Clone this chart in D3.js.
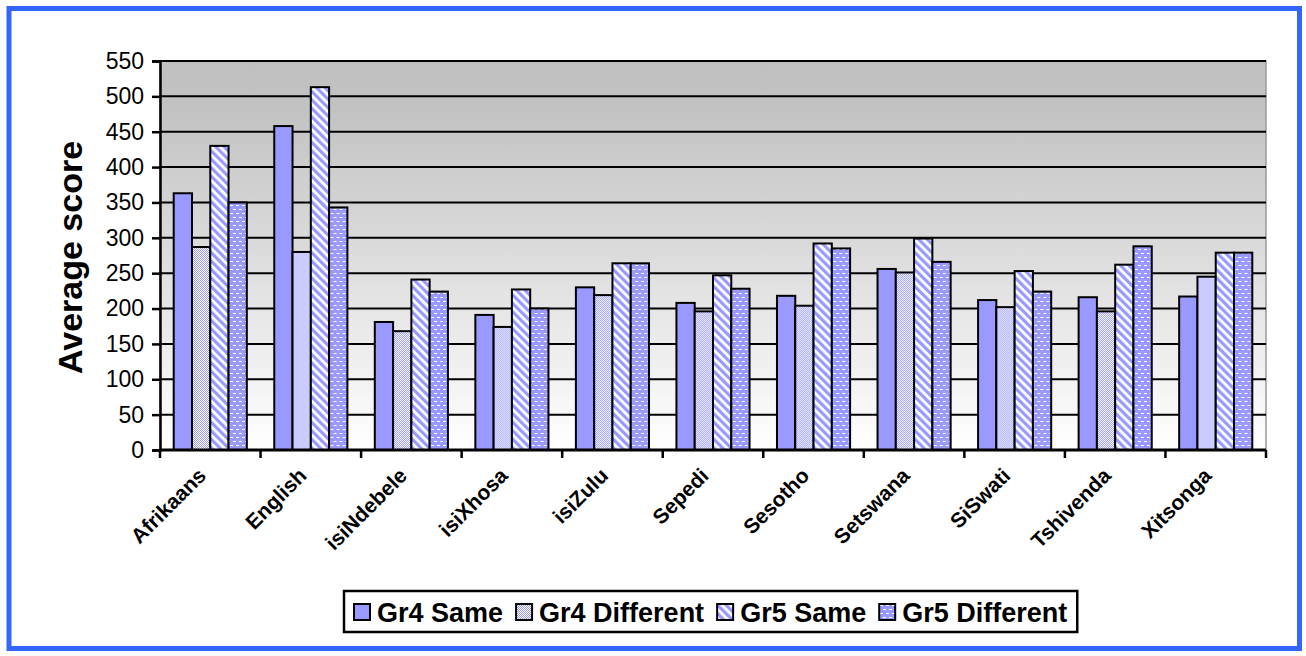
<!DOCTYPE html>
<html>
<head>
<meta charset="utf-8">
<script src="https://cdn.jsdelivr.net/npm/d3@7"></script>
<style>
  body { margin: 0; background: #fff; }
  text { font-family: Arial, "Liberation Sans", sans-serif; }
</style>
</head>
<body>
<div id="chart"></div>
<script>
"use strict";

/*** Data */
const categories = ["Afrikaans", "English", "isiNdebele", "isiXhosa", "isiZulu", "Sepedi",
                    "Sesotho", "Setswana", "SiSwati", "Tshivenda", "Xitsonga"];
const seriesNames = ["Gr4 Same", "Gr4 Different", "Gr5 Same", "Gr5 Different"];
const gr4Same = [363, 458, 181, 191, 230, 208, 218, 256, 212, 216, 217];
const gr4Diff = [287, 280, 168, 174, 219, 196, 204, 251, 202, 196, 245];
const gr5Same = [430, 513, 241, 227, 264, 247, 292, 299, 253, 262, 279];
const gr5Diff = [350, 343, 224, 200, 264, 228, 285, 266, 224, 288, 279];
const yTicks = [0, 50, 100, 150, 200, 250, 300, 350, 400, 450, 500, 550];

const seriesValues = [gr4Same, gr4Diff, gr5Same, gr5Diff];

/*** Dimensions */
const w = 1306;
const h = 656;
const plot = {left: 160, right: 1266, top: 61, bottom: 450};

const svg = d3.select("#chart")
    .append("svg")
    .attr("width", w)
    .attr("height", h);

/** Patterns + gradient */
const defs = svg.append("defs");
const blue = "#9999ff";

const grad = defs.append("linearGradient")
    .attr("id", "bg").attr("x1", 0).attr("y1", 0).attr("x2", 0).attr("y2", 1);
grad.append("stop").attr("offset", "0%").attr("stop-color", "#c0c0c0");
grad.append("stop").attr("offset", "12%").attr("stop-color", "#c2c2c2");
grad.append("stop").attr("offset", "100%").attr("stop-color", "#ffffff");

// Gr4 Different: fine checker
const pChk = defs.append("pattern").attr("id", "pChk")
    .attr("patternUnits", "userSpaceOnUse").attr("width", 2).attr("height", 2);
pChk.append("rect").attr("width", 2).attr("height", 2).attr("fill", "#ffffff");
pChk.append("rect").attr("width", 1).attr("height", 1).attr("fill", blue);
pChk.append("rect").attr("x", 1).attr("y", 1).attr("width", 1).attr("height", 1).attr("fill", blue);

// Gr5 Same: wide downward diagonal
const pDiag = defs.append("pattern").attr("id", "pDiag")
    .attr("patternUnits", "userSpaceOnUse").attr("width", 6).attr("height", 6)
    .attr("patternTransform", "rotate(-45)");
pDiag.append("rect").attr("width", 6).attr("height", 6).attr("fill", "#ffffff");
pDiag.append("rect").attr("width", 3.2).attr("height", 6).attr("fill", blue);

// Gr5 Different: blue with small white dashes
const pDash = defs.append("pattern").attr("id", "pDash")
    .attr("patternUnits", "userSpaceOnUse").attr("width", 6).attr("height", 8);
pDash.append("rect").attr("width", 6).attr("height", 8).attr("fill", blue);
pDash.append("rect").attr("x", 1).attr("y", 1).attr("width", 3).attr("height", 1).attr("fill", "#ffffff");
pDash.append("rect").attr("x", 4).attr("y", 5).attr("width", 2).attr("height", 1).attr("fill", "#ffffff");
pDash.append("rect").attr("x", 0).attr("y", 5).attr("width", 1).attr("height", 1).attr("fill", "#ffffff");

const fills = [blue, "url(#pChk)", "url(#pDiag)", "url(#pDash)"];

/** Outer frame */
svg.append("rect")
    .attr("x", 9).attr("y", 8.5)
    .attr("width", 1290.5).attr("height", 640)
    .attr("fill", "none")
    .attr("stroke", "#3366ff")
    .attr("stroke-width", 5);

/** Scales */
const x0 = d3.scaleBand().domain(categories).range([plot.left, plot.right]);
const x1 = d3.scaleBand().domain(d3.range(4)).range([0, x0.bandwidth()]).paddingOuter(0.75);
const y = d3.scaleLinear().domain([0, 550]).range([plot.bottom, plot.top]);

/** Plot background */
svg.append("rect")
    .attr("x", plot.left).attr("y", plot.top)
    .attr("width", plot.right - plot.left).attr("height", plot.bottom - plot.top)
    .attr("fill", "url(#bg)")
    .attr("stroke", "#9a9a9a")
    .attr("stroke-width", 1.5);

/** Gridlines */
svg.append("g")
    .selectAll("line")
    .data(yTicks.filter(d => d > 0))
    .enter()
    .append("line")
    .attr("x1", plot.left).attr("x2", plot.right)
    .attr("y1", d => y(d)).attr("y2", d => y(d))
    .attr("stroke", "#000").attr("stroke-width", 2);

/** Bars */
const groups = svg.append("g")
    .selectAll("g")
    .data(categories)
    .enter()
    .append("g")
    .attr("transform", d => "translate(" + x0(d) + ",0)");

groups.selectAll("rect")
    .data((c, ci) => seriesValues.map((s, si) => ({si: si, v: s[ci]})))
    .enter()
    .append("rect")
    .attr("x", d => x1(d.si))
    .attr("y", d => y(d.v))
    .attr("width", x1.bandwidth())
    .attr("height", d => y(0) - y(d.v))
    .attr("fill", d => fills[d.si])
    .attr("stroke", "#000")
    .attr("stroke-width", 2);

/** Y axis */
const yAxis = d3.axisLeft(y).tickValues(yTicks).tickSize(8).tickPadding(8);
const gy = svg.append("g")
    .attr("transform", "translate(" + plot.left + ",0)")
    .call(yAxis);
gy.select(".domain").attr("stroke-width", 2.5);
gy.selectAll(".tick line").attr("stroke-width", 2.5);
gy.selectAll("text")
    .style("font-family", "Arial, 'Liberation Sans', sans-serif")
    .style("font-size", "23px")
    .attr("fill", "#000");

/** X axis */
const gx = svg.append("g")
    .attr("transform", "translate(0," + plot.bottom + ")");
gx.append("line")
    .attr("x1", plot.left).attr("x2", plot.right)
    .attr("stroke", "#000").attr("stroke-width", 3);
gx.selectAll(".tk")
    .data(categories.concat(["end"]))
    .enter()
    .append("line")
    .attr("class", "tk")
    .attr("x1", (d, i) => plot.left + i * x0.step())
    .attr("x2", (d, i) => plot.left + i * x0.step())
    .attr("y1", 0).attr("y2", 8)
    .attr("stroke", "#000").attr("stroke-width", 2.5);

gx.selectAll(".lbl")
    .data(categories)
    .enter()
    .append("text")
    .attr("class", "lbl")
    .attr("transform", d => "translate(" + (x0(d) + x0.bandwidth() / 2 - 3) + ",27) rotate(-45)")
    .attr("text-anchor", "end")
    .style("font-size", "21px")
    .style("font-weight", "bold")
    .text(d => d);

/** Y axis title */
svg.append("text")
    .attr("transform", "translate(82," + ((plot.top + plot.bottom) / 2 + 2) + ") rotate(-90)")
    .attr("text-anchor", "middle")
    .style("font-size", "34px")
    .style("font-weight", "bold")
    .text("Average score");

/** Legend */
const legend = svg.append("g").attr("id", "legend");
const legendBox = legend.append("rect")
    .attr("y", 591).attr("height", 41)
    .attr("fill", "#fff").attr("stroke", "#000").attr("stroke-width", 2.5);

let lx = 354;
seriesNames.forEach((name, i) => {
    legend.append("rect")
        .attr("x", lx).attr("y", 604)
        .attr("width", 16).attr("height", 16)
        .attr("fill", fills[i])
        .attr("stroke", "#000").attr("stroke-width", 2);
    const t = legend.append("text")
        .attr("x", lx + 23).attr("y", 622)
        .style("font-size", "27px")
        .style("font-weight", "bold")
        .text(name);
    lx += 23 + t.node().getComputedTextLength() + 13;
});
legendBox.attr("x", 344).attr("width", lx - 344 - 3);
</script>
</body>
</html>
